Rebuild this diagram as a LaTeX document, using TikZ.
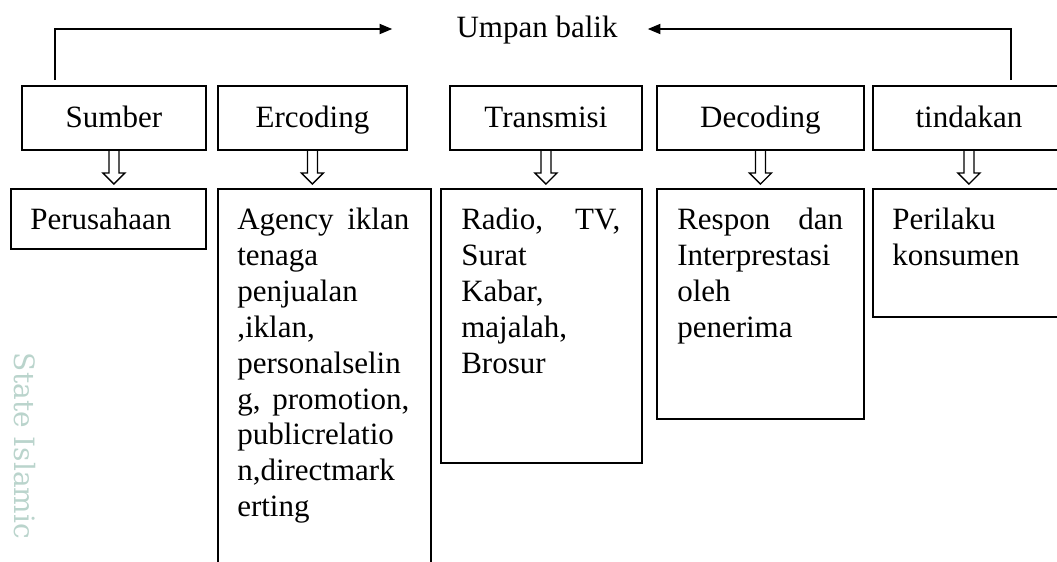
\documentclass[tikz,border=0pt]{standalone}
\usepackage{fontspec}
\setmainfont{Liberation Serif}
\newfontfamily\wmfont{DejaVu Serif}
\usetikzlibrary{arrows.meta,calc}
\definecolor{wmcol}{RGB}{186,212,204}
\tikzset{
  lbl/.style={font=\fontsize{23.25}{26.9}\selectfont},
  topbox/.style={draw, line width=1.4pt, anchor=north west, inner sep=0pt,
    minimum height=48pt, text height=16pt, text depth=1pt, lbl},
  botbox/.style={draw, line width=1.4pt, anchor=north west, inner sep=0pt},
  bodytext/.style={anchor=north west, inner sep=0pt, align=left, lbl},
  fb/.style={line width=1.4pt, -{Triangle[length=9.5pt,width=7.5pt]}},
  blockarrow/.style={line width=1pt, line join=miter},
}
\newcommand\justline[3]{\leavevmode\hbox to #1{#2\hfill #3}}
\newcommand\blockarr[2]{%
  \draw[blockarrow] ($(#1.south)+(-5,0)$)
    -- ($(#1.south |- #2.north)+(-5,-15)$)
    -- ($(#1.south |- #2.north)+(-11,-15)$)
    -- ($(#1.south |- #2.north)+(0,-4)$)
    -- ($(#1.south |- #2.north)+(11,-15)$)
    -- ($(#1.south |- #2.north)+(5,-15)$)
    -- ($(#1.south)+(5,0)$);}
\begin{document}
\begin{tikzpicture}[x=0.75pt,y=-0.75pt]
\useasboundingbox (0,0) rectangle (1057,561);
\clip (0,0) rectangle (1057,561);
% watermark
\node[rotate=-90, text=wmcol, inner sep=0pt, font=\fontsize{21}{21}\selectfont\wmfont] (wm) at (25,446) {State Islamic};
% feedback
\node[lbl, inner sep=0pt] (umpan) at (537,30) {Umpan balik};
% top boxes
\node[topbox, minimum width=138pt] (sumber) at (21,85) {Sumber};
\node[topbox, minimum width=141.75pt] (ercoding) at (217,85) {Ercoding};
\node[topbox, minimum width=144pt] (transmisi) at (449,85) {Transmisi};
\node[topbox, minimum width=155.25pt] (decoding) at (656,85) {Decoding};
\node[topbox, minimum width=144pt] (tindakan) at (872,85) {tindakan};
% bottom boxes
\node[botbox, minimum width=146.25pt, minimum height=45pt] (perusahaan) at (10,188) {};
\node[botbox, minimum width=159.75pt, minimum height=290.25pt] (agency) at (217,188) {};
\node[botbox, minimum width=150.75pt, minimum height=205.5pt] (radio) at (440,188) {};
\node[botbox, minimum width=155.25pt, minimum height=172.5pt] (respon) at (656,188) {};
\node[botbox, minimum width=144pt, minimum height=96pt] (perilaku) at (872,188) {};
% texts
\node[bodytext] (tperusahaan) at (30,208) {Perusahaan};
\node[bodytext, text width=129pt] (tagency) at (237,208) {\justline{129pt}{Agency}{iklan}\\tenaga\\penjualan\\,iklan,\\personalselin\\\justline{129pt}{g,}{promotion,}\\publicrelatio\\n,directmark\\erting};
\node[bodytext, text width=119.25pt] (tradio) at (461,208) {\justline{119.25pt}{Radio,}{TV,}\\Surat\\Kabar,\\majalah,\\Brosur};
\node[bodytext, text width=124.5pt] (trespon) at (677,208) {\justline{124.5pt}{Respon}{dan}\\Interprestasi\\oleh\\penerima};
\node[bodytext] (tperilaku) at (892,208) {Perilaku\\konsumen};
% feedback connectors
\coordinate (fbl) at (55,80);
\coordinate (fbr) at (1011,80);
\draw[fb] (fbl) |- ($(umpan.west)+(-64,-1)$);
\draw[fb] (fbr) |- ($(umpan.east)+(30,-1)$);
% block arrows
\blockarr{sumber}{perusahaan}
\blockarr{ercoding}{agency}
\blockarr{transmisi}{radio}
\blockarr{decoding}{respon}
\blockarr{tindakan}{perilaku}
\end{tikzpicture}
\end{document}
